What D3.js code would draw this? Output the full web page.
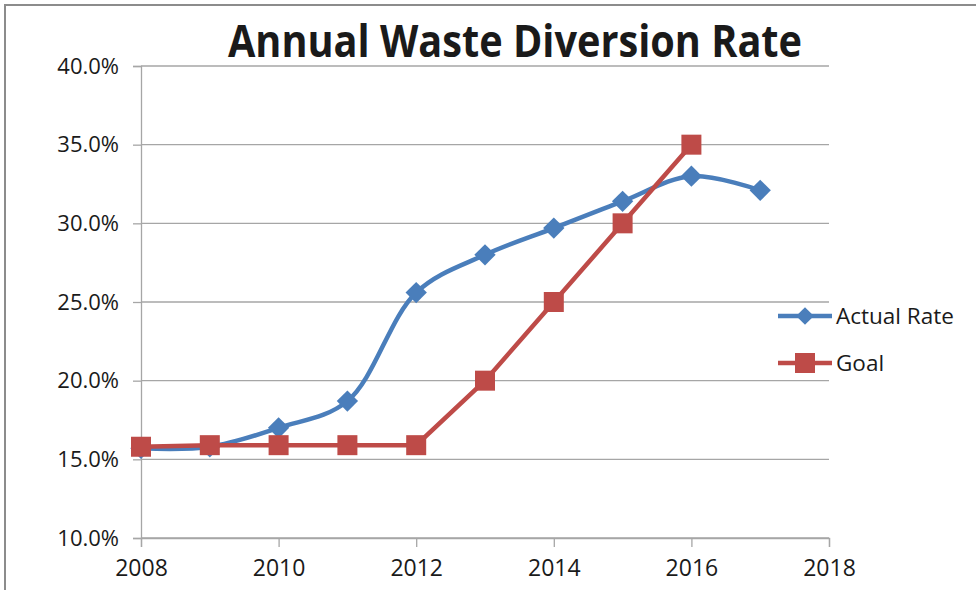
<!DOCTYPE html>
<html>
<head>
<meta charset="utf-8">
<script src="https://cdn.jsdelivr.net/npm/d3@7"></script>
<style>
  body { margin: 0; background: #fff; }
  text { font-family: "Open Sans", "Noto Sans", sans-serif; fill: #1a1a1a; }
</style>
</head>
<body>
<script>
// data
var years = [2008, 2009, 2010, 2011, 2012, 2013, 2014, 2015, 2016, 2017];
var actualRate = [0.157, 0.158, 0.170, 0.187, 0.256, 0.280, 0.297, 0.314, 0.330, 0.321];
var goalYears = [2008, 2009, 2010, 2011, 2012, 2013, 2014, 2015, 2016];
var goal = [0.158, 0.159, 0.159, 0.159, 0.159, 0.20, 0.25, 0.30, 0.35];
var xTicks = [2008, 2010, 2012, 2014, 2016, 2018];
var yTicks = [0.10, 0.15, 0.20, 0.25, 0.30, 0.35, 0.40];
var seriesNames = ["Actual Rate", "Goal"];

var width = 976, height = 590;
var blue = "#4a7ebb", red = "#be4b48";

var svg = d3.select("body").append("svg")
    .attr("width", width)
    .attr("height", height);

svg.append("rect")
    .attr("x", 5).attr("y", 5)
    .attr("width", width + 10).attr("height", height + 10)
    .attr("fill", "#fff")
    .attr("stroke", "#8c8c8c")
    .attr("stroke-width", 2);

var x = d3.scaleLinear().domain([2008, 2018]).range([141, 829]);
var y = d3.scaleLinear().domain([0.10, 0.40]).range([538, 66]);

// gridlines
svg.append("g")
    .selectAll("line")
    .data(yTicks)
    .join("line")
    .attr("x1", x(2008)).attr("x2", x(2018))
    .attr("y1", function(d){ return y(d); })
    .attr("y2", function(d){ return y(d); })
    .attr("stroke", "#a6a6a6")
    .attr("stroke-width", 1.3);

var yAxis = svg.append("g")
    .attr("transform", "translate(" + x(2008) + ",0)")
    .call(d3.axisLeft(y).tickValues(yTicks).tickFormat(d3.format(".1%")).tickSize(8).tickPadding(14));

var xAxis = svg.append("g")
    .attr("transform", "translate(0," + y(0.10) + ")")
    .call(d3.axisBottom(x).tickValues(xTicks).tickFormat(d3.format("d")).tickSize(9).tickPadding(13));

[yAxis, xAxis].forEach(function(a){
    a.select(".domain").attr("stroke", "#a6a6a6").attr("stroke-width", 1.3);
    a.selectAll(".tick line").attr("stroke", "#a6a6a6").attr("stroke-width", 1.3);
    a.selectAll("text").attr("fill", "#1a1a1a");
});
yAxis.selectAll("text").style("font-size", "22px");
xAxis.selectAll("text").style("font-size", "23px");

// title
svg.append("text")
    .attr("x", 515).attr("y", 57)
    .attr("text-anchor", "middle")
    .attr("textLength", 574)
    .attr("lengthAdjust", "spacingAndGlyphs")
    .style("font-size", "45px")
    .style("font-weight", "bold")
    .attr("fill", "#000")
    .text("Annual Waste Diversion Rate");

var actualData = years.map(function(d, i){ return {x: d, y: actualRate[i]}; });
var goalData = goalYears.map(function(d, i){ return {x: d, y: goal[i]}; });

var smooth = d3.line()
    .x(function(d){ return x(d.x); })
    .y(function(d){ return y(d.y); })
    .curve(d3.curveCatmullRom.alpha(0.5));

var straight = d3.line()
    .x(function(d){ return x(d.x); })
    .y(function(d){ return y(d.y); });

var diamond = d3.symbol().type(d3.symbolDiamond2).size(290);

svg.append("path")
    .datum(actualData)
    .attr("d", smooth)
    .attr("fill", "none")
    .attr("stroke", blue)
    .attr("stroke-width", 4.5);

svg.append("g")
    .selectAll("path")
    .data(actualData)
    .join("path")
    .attr("transform", function(d){ return "translate(" + x(d.x) + "," + y(d.y) + ")"; })
    .attr("d", diamond)
    .attr("fill", blue);

svg.append("path")
    .datum(goalData)
    .attr("d", straight)
    .attr("fill", "none")
    .attr("stroke", red)
    .attr("stroke-width", 4.5);

svg.append("g")
    .selectAll("rect")
    .data(goalData)
    .join("rect")
    .attr("x", function(d){ return x(d.x) - 10; })
    .attr("y", function(d){ return y(d.y) - 10; })
    .attr("width", 20).attr("height", 20)
    .attr("fill", red);

// legend
var legend = svg.append("g");
var legendY = [316, 363];
[blue, red].forEach(function(c, i){
    var g = legend.append("g").attr("transform", "translate(0," + legendY[i] + ")");
    g.append("line").attr("x1", 778).attr("x2", 832).attr("y1", 0).attr("y2", 0)
        .attr("stroke", c).attr("stroke-width", 4.5);
    if (i === 0) {
        g.append("path").attr("transform", "translate(805,0)")
            .attr("d", d3.symbol().type(d3.symbolDiamond2).size(200)).attr("fill", c);
    } else {
        g.append("rect").attr("x", 795).attr("y", -10).attr("width", 20).attr("height", 20).attr("fill", c);
    }
    g.append("text").attr("x", 836).attr("y", 8)
        .style("font-size", "22.5px")
        .text(seriesNames[i]);
});
</script>
</body>
</html>
